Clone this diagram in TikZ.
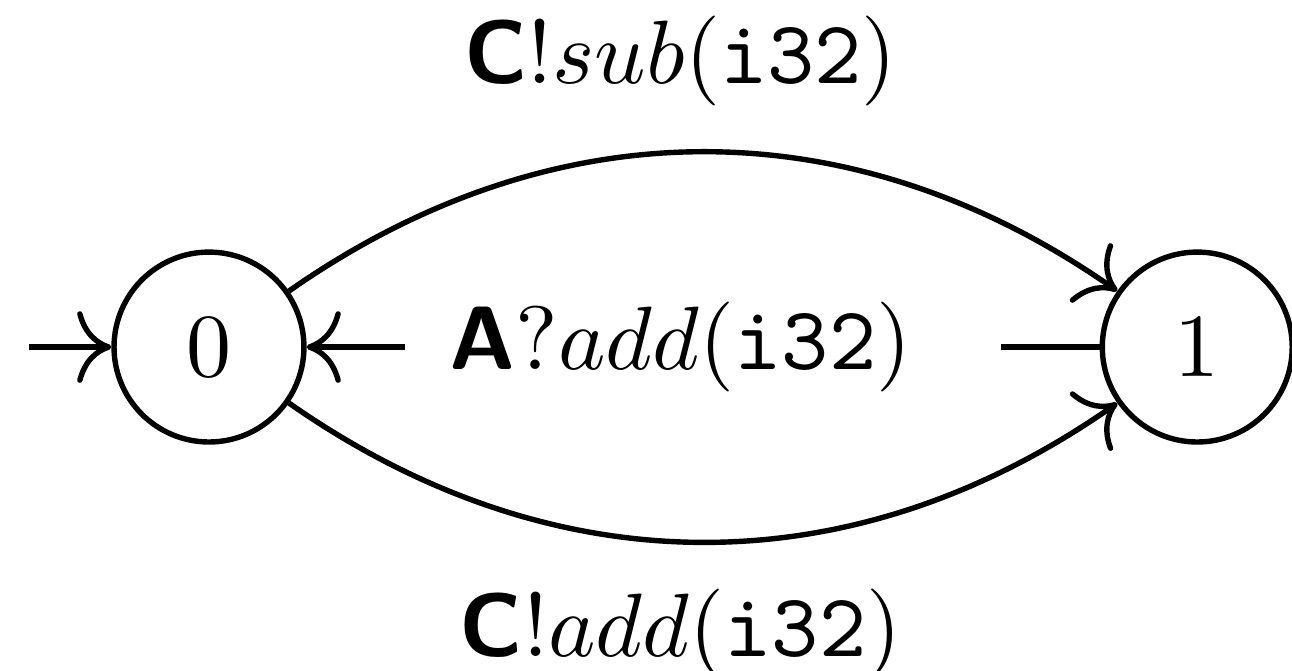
\documentclass[tikz,border=0pt]{standalone}
\usepackage{tikz}
\usetikzlibrary{arrows.meta,positioning}
\tikzset{
  statenode/.style={
    circle, draw, semithick, minimum size=21.1pt, inner sep=0pt
  },
  transarrow/.style={-{To[scale=1.3]}, semithick},
  translabel/.style={
    inner xsep=5pt, execute at end node={\hspace{5pt}}
  },
}

\begin{document}
\begin{tikzpicture}
  \useasboundingbox (-23.22pt,-35.89pt) rectangle (120.33pt,38.56pt);

  \node[statenode] (q0) at (0,0) {$0$};
  \node[statenode, right=88.1pt of q0] (q1) {$1$};
  \coordinate[left=9.2pt of q0] (init);

  \draw[transarrow] (init) -- (q0);
  \draw[transarrow] (q0) to[bend left=35] node[translabel, above=1.5pt] {$\textbf{\textsf{C}}!sub(\texttt{i32})$} (q1);
  \draw[transarrow] (q1) -- node[translabel, fill=white] {$\textbf{\textsf{A}}?add(\texttt{i32})$} (q0);
  \draw[transarrow] (q0) to[bend right=35] node[translabel, below=1.6pt] {$\textbf{\textsf{C}}!add(\texttt{i32})$} (q1);
\end{tikzpicture}
\end{document}
